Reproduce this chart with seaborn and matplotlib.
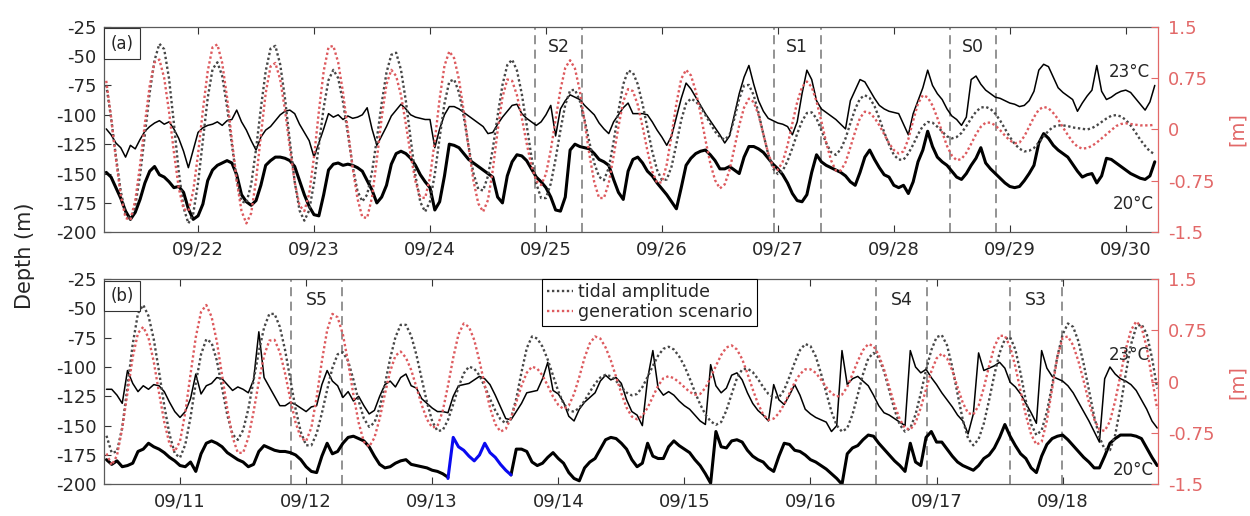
import numpy as np
import pandas as pd
import matplotlib
matplotlib.use("Agg")
import matplotlib.pyplot as plt
import matplotlib.dates as mdates
import seaborn as sns

# ---------------- panel (a): 21-30 September, hourly from 21 Sep 05:00 ----------------
start_a = "2019-09-21 05:00"
xlim_a = ("2019-09-21 04:26", "2019-09-30 06:40")

iso23_a = [
    -112, -117, -124, -128, -136, -126, -129, -121, -114, -110, -107, -105,
    -108, -106, -112, -120, -131, -145, -130, -115, -111, -109, -108, -106,
    -109, -105, -104, -96, -106, -113, -122, -130, -119, -113, -110, -105,
    -100, -97, -96, -99, -108, -115, -122, -136, -124, -112, -99, -102,
    -100, -104, -101, -103, -102, -100, -94, -112, -126, -118, -110, -101,
    -96, -91, -95, -100, -102, -103, -104, -104, -128, -112, -100, -93,
    -93, -95, -98, -101, -104, -107, -110, -116, -115, -108, -102, -97,
    -92, -91, -99, -103, -106, -109, -106, -100, -92, -118, -95, -88,
    -83, -85, -87, -92, -96, -100, -107, -112, -116, -106, -100, -94,
    -90, -99, -99, -99, -100, -106, -113, -119, -126, -118, -102, -86,
    -73, -78, -85, -92, -99, -105, -111, -117, -124, -118, -100, -82,
    -68, -58, -74, -88, -97, -103, -105, -107, -108, -110, -117, -106,
    -82, -62, -70, -88, -95, -98, -101, -104, -108, -112, -88, -79,
    -70, -72, -79, -86, -92, -95, -97, -98, -99, -108, -117, -99,
    -88, -77, -62, -75, -82, -87, -95, -101, -104, -109, -102, -70,
    -67, -74, -79, -82, -85, -86, -88, -90, -91, -93, -92, -88,
    -80, -62, -57, -59, -68, -77, -81, -84, -87, -97, -90, -84,
    -79, -58, -80, -87, -85, -82, -80, -79, -81, -86, -91, -96,
    -89, -75,
]
iso20_a = [
    -149, -153, -162, -171, -182, -189, -183, -172, -158, -148, -144, -151,
    -153, -157, -162, -161, -166, -180, -189, -186, -176, -156, -147, -143,
    -141, -139, -141, -151, -168, -174, -177, -173, -160, -143, -139, -136,
    -136, -137, -139, -144, -156, -168, -178, -185, -186, -168, -147, -142,
    -141, -143, -142, -143, -145, -148, -156, -164, -175, -170, -160, -142,
    -133, -131, -133, -137, -143, -151, -157, -162, -181, -174, -152, -125,
    -126, -128, -133, -138, -141, -144, -147, -150, -153, -170, -175, -152,
    -140, -134, -135, -139, -146, -153, -157, -162, -170, -181, -182, -170,
    -130, -125, -127, -128, -129, -133, -138, -140, -143, -155, -166, -172,
    -148, -138, -136, -141, -148, -152, -158, -163, -168, -174, -180, -162,
    -143, -137, -133, -131, -130, -134, -139, -146, -146, -144, -147, -150,
    -136, -127, -127, -129, -132, -137, -142, -146, -151, -158, -167, -173,
    -174, -168, -149, -134, -140, -143, -145, -147, -149, -152, -157, -160,
    -149, -136, -130, -138, -145, -151, -153, -160, -162, -160, -167, -157,
    -140, -130, -114, -127, -136, -140, -143, -148, -153, -155, -150, -143,
    -137, -128, -141, -146, -150, -154, -158, -161, -162, -161, -156, -150,
    -143, -124, -116, -120, -126, -130, -133, -136, -142, -148, -153, -151,
    -150, -158, -152, -137, -138, -141, -144, -147, -150, -152, -154, -155,
    -152, -140,
]
tidal_a = [
    0.65, 0.17, -0.39, -0.90, -1.24, -1.32, -1.12, -0.66, -0.07, 0.54, 1.01, 1.25,
    1.17, 0.74, 0.09, -0.61, -1.14, -1.37, -1.23, -0.78, -0.16, 0.46, 0.88, 0.98,
    0.78, 0.33, -0.22, -0.73, -1.05, -1.07, -0.80, -0.29, 0.31, 0.85, 1.18, 1.22,
    0.95, 0.45, -0.17, -0.76, -1.18, -1.33, -1.18, -0.78, -0.23, 0.32, 0.72, 0.87,
    0.75, 0.40, -0.06, -0.54, -0.90, -1.05, -0.95, -0.62, -0.14, 0.38, 0.83, 1.09,
    1.12, 0.87, 0.42, -0.14, -0.68, -1.06, -1.20, -1.05, -0.65, -0.12, 0.38, 0.70,
    0.73, 0.54, 0.18, -0.25, -0.64, -0.87, -0.89, -0.68, -0.28, 0.20, 0.65, 0.94,
    1.02, 0.86, 0.52, 0.07, -0.40, -0.79, -1.00, -1.00, -0.79, -0.43, -0.01, 0.36,
    0.57, 0.58, 0.42, 0.14, -0.19, -0.49, -0.69, -0.74, -0.56, -0.18, 0.27, 0.66,
    0.86, 0.83, 0.66, 0.37, 0.02, -0.32, -0.59, -0.74, -0.73, -0.54, -0.21, 0.14,
    0.38, 0.45, 0.41, 0.33, 0.21, 0.09, -0.03, -0.11, -0.15, -0.08, 0.16, 0.45,
    0.64, 0.65, 0.50, 0.24, -0.07, -0.36, -0.57, -0.65, -0.60, -0.46, -0.27, -0.06,
    0.12, 0.24, 0.25, 0.16, -0.01, -0.20, -0.33, -0.37, -0.29, -0.13, 0.09, 0.30,
    0.45, 0.50, 0.46, 0.34, 0.16, -0.04, -0.22, -0.37, -0.44, -0.44, -0.35, -0.22,
    -0.07, 0.05, 0.11, 0.10, 0.04, -0.03, -0.10, -0.13, -0.11, -0.05, 0.05, 0.16,
    0.26, 0.32, 0.33, 0.30, 0.23, 0.13, 0.01, -0.11, -0.21, -0.28, -0.32, -0.31,
    -0.27, -0.19, -0.10, -0.02, 0.04, 0.06, 0.06, 0.05, 0.03, 0.02, 0.01, 0.00,
    0.02, 0.06, 0.11, 0.16, 0.20, 0.21, 0.19, 0.14, 0.06, -0.04, -0.15, -0.24,
    -0.32, -0.36,
]
gen_a = [
    0.71, 0.18, -0.43, -0.96, -1.29, -1.32, -1.04, -0.52, 0.09, 0.64, 0.98, 1.02,
    0.75, 0.26, -0.33, -0.85, -1.16, -1.19, -0.90, -0.36, 0.28, 0.85, 1.20, 1.24,
    0.97, 0.47, -0.15, -0.75, -1.19, -1.37, -1.22, -0.74, -0.09, 0.53, 0.92, 0.97,
    0.73, 0.28, -0.27, -0.77, -1.11, -1.19, -0.94, -0.40, 0.26, 0.85, 1.20, 1.22,
    0.98, 0.54, -0.01, -0.56, -1.01, -1.28, -1.29, -0.99, -0.44, 0.17, 0.66, 0.87,
    0.78, 0.50, 0.08, -0.37, -0.76, -0.99, -1.00, -0.70, -0.16, 0.45, 0.93, 1.14,
    1.04, 0.73, 0.26, -0.27, -0.75, -1.08, -1.20, -1.03, -0.59, -0.02, 0.47, 0.73,
    0.71, 0.50, 0.17, -0.20, -0.53, -0.75, -0.81, -0.65, -0.30, 0.15, 0.58, 0.90,
    1.01, 0.89, 0.57, 0.11, -0.37, -0.77, -1.00, -1.00, -0.78, -0.39, 0.04, 0.41,
    0.59, 0.56, 0.36, 0.04, -0.31, -0.61, -0.78, -0.77, -0.51, -0.08, 0.38, 0.74,
    0.87, 0.79, 0.56, 0.23, -0.15, -0.49, -0.74, -0.86, -0.80, -0.59, -0.27, 0.06,
    0.32, 0.45, 0.40, 0.21, -0.07, -0.35, -0.54, -0.59, -0.47, -0.23, 0.09, 0.40,
    0.62, 0.70, 0.62, 0.41, 0.12, -0.19, -0.45, -0.60, -0.60, -0.48, -0.26, -0.03,
    0.17, 0.26, 0.24, 0.17, 0.06, -0.07, -0.20, -0.30, -0.35, -0.32, -0.14, 0.13,
    0.38, 0.50, 0.47, 0.35, 0.17, -0.04, -0.24, -0.38, -0.45, -0.43, -0.34, -0.21,
    -0.07, 0.04, 0.10, 0.10, 0.06, -0.01, -0.09, -0.16, -0.20, -0.19, -0.10, 0.04,
    0.18, 0.29, 0.33, 0.31, 0.24, 0.15, 0.03, -0.08, -0.18, -0.25, -0.28, -0.27,
    -0.24, -0.19, -0.13, -0.07, -0.01, 0.05, 0.08, 0.09, 0.08, 0.07, 0.06, 0.06,
    0.06, 0.07,
]
names_a = ["S2", "S1", "S0"]
win_start_a = ["2019-09-24 21:43", "2019-09-26 23:11", "2019-09-28 11:36"]
win_end_a = ["2019-09-25 07:26", "2019-09-27 08:53", "2019-09-28 21:06"]

# ---------------- panel (b): 10-18 September, hourly from 10 Sep 10:00 ----------------
start_b = "2019-09-10 10:00"
xlim_b = ("2019-09-10 09:26", "2019-09-18 18:09")

iso23_b = [
    -119, -119, -124, -131, -103, -114, -121, -116, -119, -115, -116, -121,
    -130, -138, -143, -138, -127, -106, -123, -116, -114, -109, -110, -115,
    -120, -117, -119, -122, -111, -70, -109, -117, -125, -133, -133, -130,
    -132, -135, -138, -134, -133, -115, -103, -112, -116, -126, -121, -129,
    -125, -133, -140, -137, -125, -115, -112, -117, -109, -106, -116, -118,
    -127, -131, -135, -138, -138, -139, -125, -116, -115, -114, -111, -108,
    -110, -115, -124, -134, -144, -145, -138, -131, -122, -121, -120, -110,
    -96, -120, -123, -130, -142, -146, -136, -130, -126, -122, -112, -107,
    -111, -109, -114, -128, -138, -141, -150, -110, -86, -118, -124, -121,
    -124, -129, -133, -136, -141, -146, -149, -98, -116, -122, -118, -107,
    -105, -111, -122, -131, -137, -141, -146, -115, -128, -132, -124, -115,
    -124, -136, -140, -143, -145, -147, -155, -150, -86, -115, -110, -108,
    -112, -116, -124, -133, -139, -141, -144, -147, -150, -86, -100, -105,
    -102, -109, -115, -122, -128, -134, -141, -146, -157, -140, -88, -103,
    -101, -99, -96, -101, -113, -117, -123, -131, -139, -148, -86, -101,
    -108, -110, -112, -116, -122, -130, -138, -146, -155, -164, -110, -100,
    -106, -110, -112, -115, -120, -128, -136, -146, -152,
]
nan = np.nan
iso20_b = [
    -179, -183, -180, -185, -184, -182, -172, -170, -165, -168, -170, -173,
    -177, -180, -184, -185, -181, -189, -174, -165, -163, -165, -168, -173,
    -176, -179, -181, -185, -183, -172, -167, -169, -171, -172, -172, -173,
    -175, -179, -185, -189, -190, -176, -165, -174, -172, -165, -160, -159,
    -161, -163, -168, -176, -183, -186, -185, -182, -180, -179, -183, -184,
    -185, -186, -188, -189, -191, -194, nan, nan, nan, nan, nan, nan,
    nan, nan, nan, nan, nan, -192, -170, -170, -172, -181, -184, -182,
    -177, -173, -178, -182, -190, -195, -197, -186, -181, -178, -170, -162,
    -160, -161, -165, -170, -179, -185, -182, -165, -176, -178, -178, -168,
    -163, -167, -170, -173, -179, -184, -191, -199, -155, -168, -169, -163,
    -162, -164, -171, -176, -179, -181, -186, -189, -176, -165, -166, -171,
    -172, -175, -179, -181, -184, -187, -191, -195, -200, -174, -169, -167,
    -162, -158, -159, -165, -170, -175, -180, -184, -189, -165, -181, -184,
    -160, -155, -164, -164, -170, -176, -181, -184, -186, -188, -184, -178,
    -175, -169, -160, -149, -159, -167, -174, -178, -186, -190, -176, -166,
    -161, -159, -158, -162, -167, -172, -177, -181, -186, -186, -176, -165,
    -161, -158, -158, -158, -159, -161, -169, -177, -184,
]
# 20 degC record from the second mooring, 13 Sep 03:00 - 15:00
blue_start_b = "2019-09-13 03:00"
iso20_blue_b = [-195, -160, -168, -171, -176, -180, -175, -165, -173, -177, -183, -188, -192]

tidal_b = [
    -0.79, -1.04, -1.02, -0.67, -0.07, 0.55, 1.00, 1.12, 0.96, 0.62, 0.15, -0.35,
    -0.77, -1.05, -1.11, -0.92, -0.52, -0.02, 0.40, 0.62, 0.57, 0.31, -0.09, -0.49,
    -0.77, -0.85, -0.71, -0.40, 0.02, 0.44, 0.79, 0.99, 0.99, 0.80, 0.46, 0.03,
    -0.40, -0.74, -0.93, -0.93, -0.76, -0.46, -0.12, 0.20, 0.40, 0.43, 0.30, 0.03,
    -0.28, -0.54, -0.66, -0.60, -0.38, -0.04, 0.34, 0.65, 0.83, 0.83, 0.67, 0.39,
    0.04, -0.30, -0.58, -0.72, -0.71, -0.56, -0.33, -0.08, 0.12, 0.22, 0.19, 0.09,
    -0.07, -0.25, -0.42, -0.55, -0.61, -0.53, -0.25, 0.14, 0.49, 0.66, 0.63, 0.51,
    0.32, 0.09, -0.14, -0.32, -0.42, -0.44, -0.38, -0.28, -0.15, -0.03, 0.06, 0.10,
    0.08, 0.01, -0.08, -0.16, -0.20, -0.18, -0.08, 0.07, 0.23, 0.38, 0.48, 0.51,
    0.47, 0.37, 0.23, 0.05, -0.15, -0.33, -0.48, -0.58, -0.63, -0.59, -0.42, -0.18,
    0.05, 0.18, 0.19, 0.14, 0.04, -0.08, -0.18, -0.23, -0.23, -0.12, 0.07, 0.28,
    0.46, 0.55, 0.52, 0.37, 0.12, -0.16, -0.44, -0.64, -0.73, -0.68, -0.48, -0.19,
    0.11, 0.34, 0.42, 0.35, 0.15, -0.13, -0.41, -0.63, -0.73, -0.68, -0.48, -0.17,
    0.17, 0.46, 0.65, 0.68, 0.53, 0.21, -0.18, -0.56, -0.83, -0.93, -0.84, -0.61,
    -0.27, 0.10, 0.42, 0.62, 0.65, 0.47, 0.12, -0.28, -0.62, -0.78, -0.71, -0.44,
    -0.05, 0.37, 0.69, 0.85, 0.80, 0.59, 0.26, -0.12, -0.51, -0.81, -0.99, -1.00,
    -0.78, -0.37, 0.11, 0.54, 0.80, 0.84, 0.70, 0.35, -0.10,
]
gen_b = [
    -1.05, -1.22, -1.08, -0.68, -0.16, 0.36, 0.71, 0.80, 0.64, 0.29, -0.16, -0.59,
    -0.91, -1.02, -0.87, -0.45, 0.11, 0.65, 1.02, 1.12, 0.95, 0.59, 0.10, -0.40,
    -0.81, -1.04, -1.04, -0.82, -0.44, 0.00, 0.38, 0.60, 0.61, 0.43, 0.12, -0.26,
    -0.60, -0.82, -0.87, -0.67, -0.23, 0.30, 0.75, 0.99, 0.94, 0.69, 0.28, -0.19,
    -0.60, -0.88, -0.95, -0.82, -0.54, -0.18, 0.15, 0.38, 0.44, 0.35, 0.17, -0.08,
    -0.34, -0.55, -0.67, -0.65, -0.43, -0.06, 0.35, 0.69, 0.85, 0.80, 0.61, 0.30,
    -0.05, -0.38, -0.62, -0.73, -0.69, -0.53, -0.30, -0.06, 0.13, 0.22, 0.19, 0.09,
    -0.06, -0.22, -0.34, -0.40, -0.35, -0.18, 0.07, 0.35, 0.56, 0.66, 0.63, 0.50,
    0.31, 0.07, -0.17, -0.38, -0.51, -0.55, -0.50, -0.38, -0.22, -0.06, 0.05, 0.08,
    0.05, -0.01, -0.08, -0.15, -0.19, -0.18, -0.09, 0.06, 0.23, 0.39, 0.50, 0.53,
    0.47, 0.33, 0.12, -0.11, -0.32, -0.48, -0.56, -0.54, -0.46, -0.33, -0.17, -0.01,
    0.11, 0.18, 0.18, 0.13, 0.03, -0.08, -0.17, -0.22, -0.19, -0.08, 0.11, 0.30,
    0.46, 0.55, 0.52, 0.39, 0.18, -0.08, -0.34, -0.55, -0.68, -0.70, -0.60, -0.38,
    -0.11, 0.15, 0.34, 0.41, 0.34, 0.16, -0.08, -0.31, -0.46, -0.48, -0.35, -0.09,
    0.23, 0.51, 0.67, 0.67, 0.51, 0.22, -0.14, -0.49, -0.77, -0.92, -0.88, -0.57,
    -0.10, 0.36, 0.64, 0.66, 0.53, 0.30, 0.01, -0.30, -0.55, -0.70, -0.72, -0.58,
    -0.28, 0.09, 0.47, 0.75, 0.88, 0.80, 0.50, 0.05, -0.40,
]
names_b = ["S5", "S4", "S3"]
win_start_b = ["2019-09-11 21:07", "2019-09-16 12:27", "2019-09-17 13:58"]
win_end_b = ["2019-09-12 06:50", "2019-09-16 22:13", "2019-09-17 23:48"]

# ---------------- axis ticks ----------------
depth_ticks = [-200, -175, -150, -125, -100, -75, -50, -25]
depth_tick_labels = ["-200", "-175", "-150", "-125", "-100", "-75", "-50", "-25"]
amp_ticks = [-1.5, -0.75, 0, 0.75, 1.5]
amp_tick_labels = ["-1.5", "-0.75", "0", "0.75", "1.5"]

# ---------------- style ----------------
sns.set_style("ticks")
plt.rcParams["font.family"] = ["DejaVu Sans"]
plt.rcParams["axes.unicode_minus"] = False

RED = "#e26868"
GEN_RED = "#dd5a5e"
TIDE_GREY = "#474747"
FRAME = "#5a5a5a"
WIN_GREY = "#8a8a8a"
FS = 13
DOTS = (0, (1.0, 1.1))


def make_frame(start, iso23, iso20, tidal, gen):
    frame = pd.DataFrame({
        "time": pd.date_range(start, periods=len(iso23), freq="h"),
        "iso23": iso23, "iso20": iso20, "tidal": tidal, "gen": gen,
    })
    # separate pieces of the 20 degC record wherever it has a gap
    frame["piece"] = frame["iso20"].isna().cumsum()
    return frame


def draw_panel(ax, frame, xlim, names, w_start, w_end, letter, y23, y20,
               with_legend=False, blue=None):
    sns.lineplot(data=frame, x="time", y="iso23", ax=ax, color="black",
                 lw=1.1, estimator=None, errorbar=None, legend=False)
    sns.lineplot(data=frame.dropna(subset=["iso20"]), x="time", y="iso20",
                 units="piece", ax=ax, color="black", lw=2.2,
                 estimator=None, errorbar=None, legend=False)
    if blue is not None:
        sns.lineplot(data=blue, x="time", y="iso20", ax=ax, color="#0a0af0",
                     lw=2.2, estimator=None, errorbar=None, legend=False)

    for s, e, name in zip(w_start, w_end, names):
        s, e = pd.Timestamp(s), pd.Timestamp(e)
        for t in (s, e):
            ax.axvline(t, color=WIN_GREY, lw=1.3, ls=(0, (5, 3)), zorder=1)
        ax.text(s + (e - s) / 2, 0.90, name, transform=ax.get_xaxis_transform(),
                ha="center", va="center", fontsize=12.5, zorder=6)

    ax.set_xlim(pd.Timestamp(xlim[0]), pd.Timestamp(xlim[1]))
    ax.set_ylim(-200, -25)
    ax.set_yticks(depth_ticks)
    ax.set_yticklabels(depth_tick_labels)
    ax.xaxis.set_major_locator(mdates.DayLocator())
    ax.xaxis.set_major_formatter(mdates.DateFormatter("%m/%d"))
    ax.tick_params(axis="x", direction="in", top=True, bottom=True, length=5,
                   width=0.8, color="#333333", labelsize=FS, pad=6)
    ax.tick_params(axis="y", direction="in", left=True, right=False, length=5,
                   width=0.8, color="#333333", labelsize=FS, pad=5)
    ax.set_xlabel("")
    ax.set_ylabel("")
    for side in ("left", "top", "bottom"):
        ax.spines[side].set_color(FRAME)
        ax.spines[side].set_linewidth(0.9)
    ax.spines["right"].set_visible(False)

    ax2 = ax.twinx()
    sns.lineplot(data=frame, x="time", y="tidal", ax=ax2, color=TIDE_GREY,
                 lw=1.7, linestyle=DOTS, estimator=None, errorbar=None,
                 legend=False, label="tidal amplitude")
    sns.lineplot(data=frame, x="time", y="gen", ax=ax2, color=GEN_RED,
                 lw=1.7, linestyle=DOTS, estimator=None, errorbar=None,
                 legend=False, label="generation scenario")
    ax2.set_xlim(pd.Timestamp(xlim[0]), pd.Timestamp(xlim[1]))
    ax2.set_ylim(-1.5, 1.5)
    ax2.set_yticks(amp_ticks)
    ax2.set_yticklabels(amp_tick_labels)
    ax2.tick_params(axis="y", direction="in", right=True, length=5, width=0.8,
                    colors=RED, labelsize=FS, pad=7)
    ax2.set_xlabel("")
    ax2.set_ylabel("[m]", color=RED, fontsize=14)
    ax2.yaxis.set_label_coords(1.066, 0.5)
    for side in ("left", "top", "bottom"):
        ax2.spines[side].set_visible(False)
    ax2.spines["right"].set_color(RED)
    ax2.spines["right"].set_linewidth(0.9)

    ax2.text(0.0174, 0.918, letter, transform=ax2.transAxes, ha="center",
             va="center", fontsize=12, zorder=10,
             bbox=dict(boxstyle="square,pad=0.38", fc="white", ec="#333333", lw=0.8))
    ax2.text(0.992, y23, "23°C", transform=ax2.transAxes, ha="right",
             va="center", fontsize=12, zorder=10)
    ax2.text(0.996, y20, "20°C", transform=ax2.transAxes, ha="right",
             va="center", fontsize=12, zorder=10)

    if with_legend:
        leg = ax2.legend(loc="upper left", bbox_to_anchor=(0.416, 1.0),
                         borderaxespad=0, fontsize=12.5, handlelength=1.5,
                         handletextpad=0.3, borderpad=0.25, labelspacing=0.12,
                         fancybox=False, framealpha=1)
        leg.get_frame().set_edgecolor("black")
        leg.get_frame().set_linewidth(0.8)
    return ax2


frame_a = make_frame(start_a, iso23_a, iso20_a, tidal_a, gen_a)
frame_b = make_frame(start_b, iso23_b, iso20_b, tidal_b, gen_b)
blue_frame = pd.DataFrame({
    "time": pd.date_range(blue_start_b, periods=len(iso20_blue_b), freq="h"),
    "iso20": iso20_blue_b,
})

fig = plt.figure(figsize=(12.5, 5.16), dpi=100)
ax_a = fig.add_axes([0.0828, 0.5498, 0.8436, 0.3985])
ax_b = fig.add_axes([0.0828, 0.0614, 0.8436, 0.3979])

draw_panel(ax_a, frame_a, xlim_a, names_a, win_start_a, win_end_a, "(a)",
           0.781, 0.138)
draw_panel(ax_b, frame_b, xlim_b, names_b, win_start_b, win_end_b, "(b)",
           0.631, 0.07, with_legend=True, blue=blue_frame)

fig.text(0.02, 0.505, "Depth (m)", rotation=90, ha="center", va="center",
         fontsize=15, color="#262626")

fig.savefig("out.png", dpi=100, facecolor="white")
